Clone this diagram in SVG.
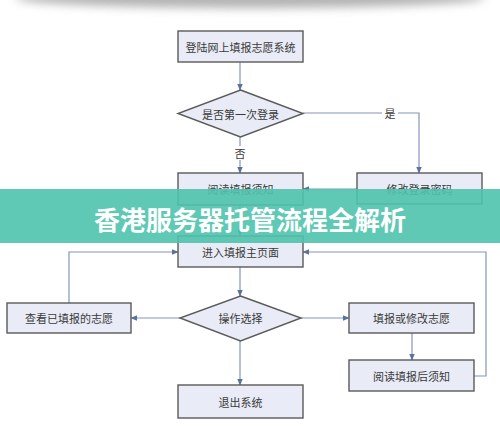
<svg xmlns="http://www.w3.org/2000/svg" width="500" height="434" viewBox="0 0 500 434">
<defs>
<filter id="blur" x="-20%" y="-200%" width="140%" height="500%"><feGaussianBlur stdDeviation="5"/></filter>
<marker id="ah" viewBox="0 0 10 10" refX="9" refY="5" markerWidth="7" markerHeight="7" orient="auto" markerUnits="userSpaceOnUse"><path d="M0,1 L10,5 L0,9 Z" fill="#5a72a0"/></marker>
<style>
.box{fill:#e9ecf6;stroke:#5a5a5a;stroke-width:1.4}
.t{font-family:"Noto Sans CJK SC","Noto Sans",sans-serif;font-size:11px;fill:#3a3a3a;text-anchor:middle;dominant-baseline:central}
.ln{fill:none;stroke:#8496b8;stroke-width:1.2}
.ar{marker-end:url(#ah)}
</style>
</defs>
<rect width="500" height="434" fill="#ffffff"/>
<ellipse cx="250" cy="-2" rx="235" ry="10" fill="#9a9a9a" filter="url(#blur)" opacity="0.75"/>
<g id="connectors">
<path class="ln ar" d="M240,62 V90"/>
<path class="ln ar" d="M303,113 H419 V173"/>
<path class="ln ar" d="M240,137 V173"/>
<path class="ln ar" d="M357,189 H303"/>
<path class="ln ar" d="M240,205 V236"/>
<path class="ln ar" d="M240,267 V296"/>
<path class="ln ar" d="M180,318 H131"/>
<path class="ln ar" d="M301,318 H349"/>
<path class="ln ar" d="M240,341 V385"/>
<path class="ln ar" d="M412,333 V360"/>
<path class="ln ar" d="M69,303 V252 H178"/>
<path class="ln ar" d="M474,376 H486 V252 H303"/>
<rect x="382" y="106" width="16" height="14" fill="#ffffff"/>
<text class="t" x="390" y="113">是</text>
<rect x="232" y="146" width="16" height="14" fill="#ffffff"/>
<text class="t" x="240" y="153">否</text>
</g>
<g id="n1"><rect class="box" x="178" y="31" width="125" height="31"/><text class="t" x="240.5" y="46.5">登陆网上填报志愿系统</text></g>
<g id="d1"><polygon class="box" points="240.5,90 303,113.5 240.5,137 178,113.5"/><text class="t" x="240.5" y="113.5">是否第一次登录</text></g>
<g id="n2"><rect class="box" x="178" y="173" width="125" height="32"/><text class="t" x="240.5" y="189">阅读填报须知</text></g>
<g id="n3"><rect class="box" x="357" y="173" width="125" height="31"/><text class="t" x="419.5" y="188.5">修改登录密码</text></g>
<g id="n4"><rect class="box" x="178" y="236" width="125" height="31"/><text class="t" x="240.5" y="251.5">进入填报主页面</text></g>
<g id="d2"><polygon class="box" points="240.5,296 301,318 240.5,341 180,318"/><text class="t" x="240.5" y="318">操作选择</text></g>
<g id="n5"><rect class="box" x="7" y="303" width="124" height="30"/><text class="t" x="69" y="318">查看已填报的志愿</text></g>
<g id="n6"><rect class="box" x="349" y="303" width="125" height="30"/><text class="t" x="411.5" y="318">填报或修改志愿</text></g>
<g id="n7"><rect class="box" x="349" y="360" width="125" height="31"/><text class="t" x="411.5" y="375.5">阅读填报后须知</text></g>
<g id="n8"><rect class="box" x="178" y="385" width="125" height="33"/><text class="t" x="240.5" y="401.5">退出系统</text></g>
<g id="banner">
<rect x="0" y="189" width="500" height="54" fill="#4ec3ad" opacity="0.9"/>
<text x="250" y="218" font-family="Noto Sans CJK SC,sans-serif" font-size="26" font-weight="bold" fill="#ffffff" text-anchor="middle" dominant-baseline="central">香港服务器托管流程全解析</text>
</g>
</svg>
